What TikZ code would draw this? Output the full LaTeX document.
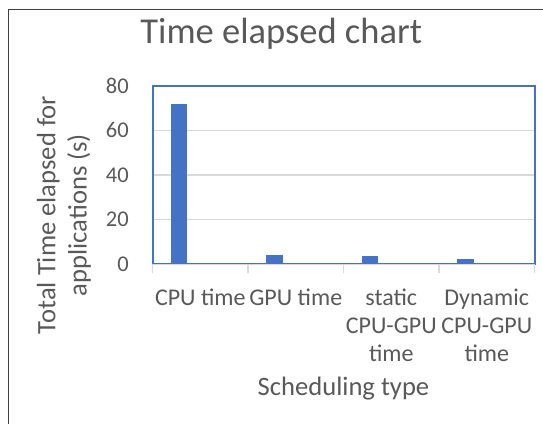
\documentclass[tikz,border=0pt]{standalone}
\usepackage{fontspec}
\setmainfont{Carlito}
\definecolor{txtgray}{HTML}{595959}
\definecolor{barblue}{HTML}{4472C4}
\definecolor{gridgray}{HTML}{D9D9D9}
\definecolor{framegray}{HTML}{404040}
\begin{document}
\begin{tikzpicture}[x=1pt,y=-1pt,
  ticklbl/.style={font=\fontsize{22.5}{27}\selectfont, text=txtgray, inner sep=0pt, anchor=east},
  catlbl/.style={font=\fontsize{24}{29}\selectfont, text=txtgray, inner sep=0pt, anchor=base},
  axtitle/.style={font=\fontsize{26.6}{32}\selectfont, text=txtgray, inner sep=0pt, anchor=base},
  charttitle/.style={font=\fontsize{36.5}{44}\selectfont, text=txtgray, inner sep=0pt, anchor=base},
  gridline/.style={draw=gridgray, line width=1.3pt},
  axisline/.style={draw=gridgray, line width=1.6pt},
  databar/.style={fill=barblue, draw=none},
  plotframe/.style={draw=barblue, line width=2pt},
  chartframe/.style={draw=framegray, line width=1.6pt}]
\useasboundingbox (0,0) rectangle (543,423);
% plot area limits (0 at the bottom, 80 at the top)
\def\plotL{152.5}\def\plotR{534.5}\def\plotT{85.5}\def\plotB{264.3}
\def\unitH{2.235}

% outer chart border
\draw[chartframe] (545,9.5) -- (8.5,9.5) -- (8.5,425);

% title
\node[charttitle] (title) at (281.2,43.5) {Time elapsed chart};

% horizontal gridlines
\foreach \v in {20,40,60}
  \draw[gridline] (\plotL,{\plotB-\unitH*\v}) -- (\plotR,{\plotB-\unitH*\v});

% bars
\foreach \c/\v [count=\i] in {200.25/71.6, 295.75/4.2, 391.25/3.6, 486.75/2.2}
  \fill[databar] ({\c-29.5},\plotB) rectangle ({\c-13},{\plotB-\unitH*\v});

% plot area border
\draw[plotframe] (\plotL,\plotB) rectangle (\plotR,\plotT);

% category axis with tick marks
\draw[axisline] (\plotL,\plotB) -- (\plotR,\plotB);
\foreach \x in {152.5,248,343.5,439,534.5}
  \draw[axisline] (\x,\plotB) -- (\x,272.7);

% value axis labels
\foreach \v in {0,20,40,60,80}
  \node[ticklbl] (yl\v) at (129,{\plotB-\unitH*\v}) {\v};

% category labels
\node[catlbl] (cat1) at (200.25,305) {CPU time};
\node[catlbl] (cat2) at (295.75,305) {GPU time};
\node[catlbl] (cat3a) at (391.25,305) {static};
\node[catlbl] (cat3b) at (391.25,333.3) {CPU-GPU};
\node[catlbl] (cat3c) at (391.25,361.7) {time};
\node[catlbl] (cat4a) at (486.75,305) {Dynamic};
\node[catlbl] (cat4b) at (486.75,333.3) {CPU-GPU};
\node[catlbl] (cat4c) at (486.75,361.7) {time};

% axis titles
\node[axtitle] (xtitle) at (343.5,395) {Scheduling type};
\node[axtitle, rotate=90] (ytitle1) at (55.4,215) {Total Time elapsed for};
\node[axtitle, rotate=90] (ytitle2) at (86.6,215) {applications (s)};
\end{tikzpicture}
\end{document}
